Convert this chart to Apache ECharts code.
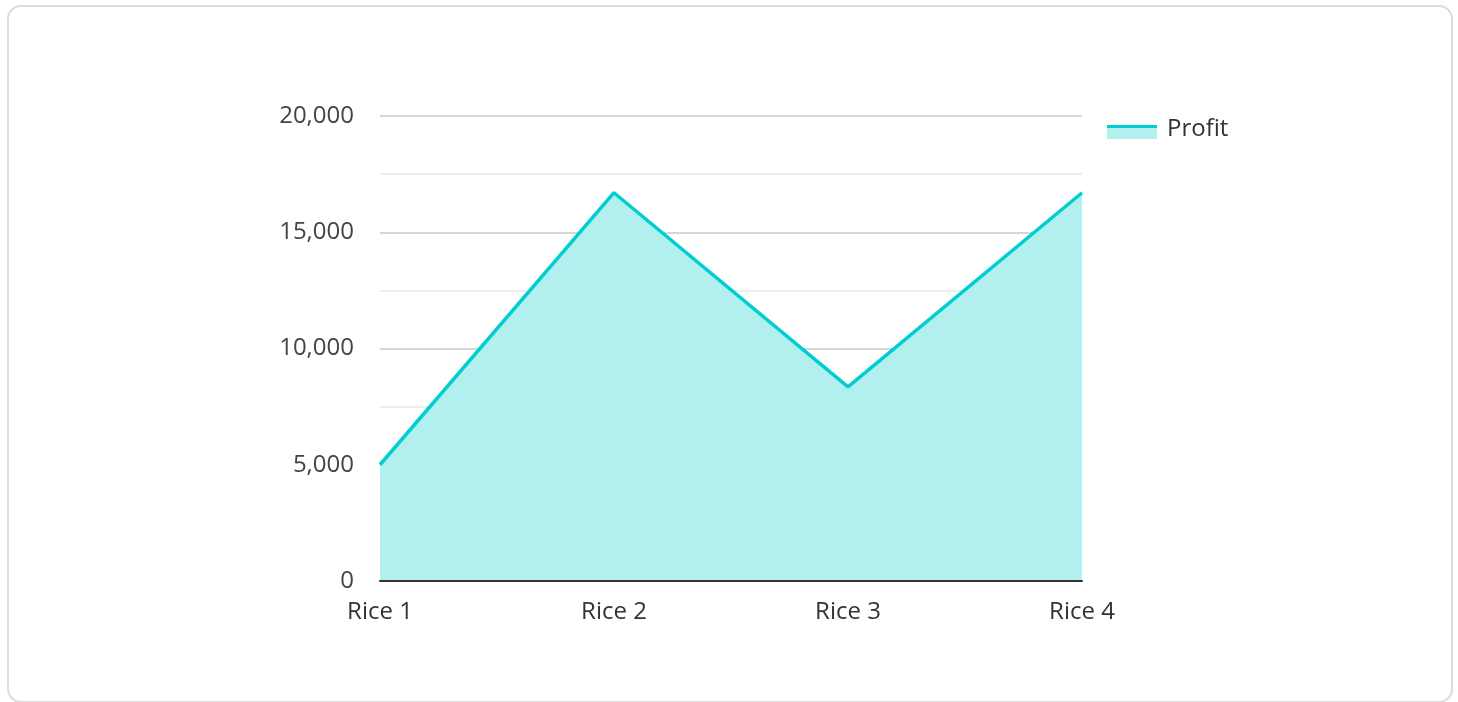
<!DOCTYPE html>
<html>
<head>
<meta charset="utf-8">
<script src="https://cdn.jsdelivr.net/npm/echarts@6/dist/echarts.min.js"></script>
<style>
  html, body { margin: 0; padding: 0; width: 1458px; height: 702px; background: #fff; overflow: hidden; }
  #card { position: absolute; left: 7px; top: 5px; width: 1442px; height: 694px; border: 2px solid #dcdcdc; border-radius: 14px; box-sizing: content-box; }
  #chart { position: absolute; left: 0; top: 0; width: 1458px; height: 702px; }
</style>
</head>
<body>
<div id="card"></div>
<div id="chart"></div>
<script>
const categories = ["Rice 1", "Rice 2", "Rice 3", "Rice 4"];
const profit = [5000, 16700, 8350, 16700];
const seriesName = "Profit";

const chart = echarts.init(document.getElementById('chart'), null, { renderer: 'canvas' });
const font = '"Open Sans", sans-serif';
const lineColor = '#00CED1';
const fillColor = '#b2f0f0';
chart.setOption({
  animation: false,
  textStyle: { fontFamily: font },
  legend: {
    data: [{
      name: seriesName,
      icon: 'rect',
      itemStyle: {
        color: new echarts.graphic.LinearGradient(0, 0, 0, 1, [
          { offset: 0, color: lineColor },
          { offset: 0.25, color: lineColor },
          { offset: 0.25, color: fillColor },
          { offset: 1, color: fillColor }
        ]),
        borderWidth: 0
      }
    }],
    orient: 'vertical',
    left: 1102,
    top: 112,
    itemWidth: 50,
    itemHeight: 14,
    itemGap: 10,
    formatter: '{t|{name}}',
    textStyle: {
      fontSize: 24, color: '#333', fontFamily: font,
      rich: { t: { fontSize: 24, color: '#333', fontFamily: font, padding: [0, 0, 6, 5] } }
    }
  },
  grid: { left: 380, right: 376, top: 116, bottom: 121, containLabel: false },
  xAxis: {
    type: 'category',
    data: categories,
    boundaryGap: false,
    z: 5,
    axisLine: { show: true, lineStyle: { color: '#333', width: 2 } },
    axisTick: { show: false },
    axisLabel: { fontSize: 24, color: '#333', margin: 19, fontFamily: font }
  },
  yAxis: {
    type: 'value',
    min: 0,
    max: 20000,
    interval: 5000,
    axisLine: { show: false },
    axisTick: { show: false },
    axisLabel: {
      fontSize: 24, color: '#444', margin: 26, fontFamily: font,
      formatter: v => v.toLocaleString('en-US')
    },
    splitLine: { show: true, lineStyle: { color: '#c8c8c8', width: 1.5 } },
    minorTick: { show: false, splitNumber: 2 },
    minorSplitLine: { show: true, lineStyle: { color: '#e8e8e8', width: 1.5 } }
  },
  series: [{
    name: seriesName,
    type: 'line',
    data: profit,
    symbol: 'none',
    lineStyle: { color: lineColor, width: 3.5 },
    itemStyle: { color: lineColor },
    areaStyle: { color: fillColor, opacity: 1, origin: 'start' },
    z: 1
  }]
});
</script>
</body>
</html>
